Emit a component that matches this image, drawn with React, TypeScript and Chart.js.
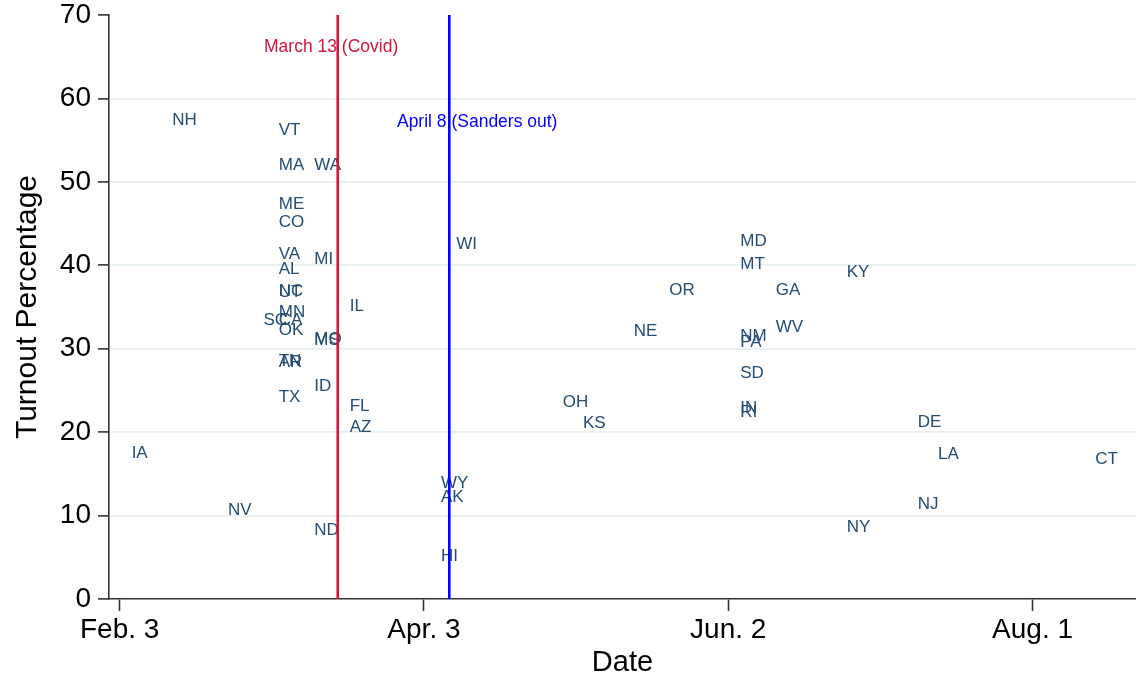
import React, { useEffect, useRef } from "react";
import { Chart, registerables } from "chart.js";

Chart.register(...registerables);

// ---- data ----
const startDate = "2020-02-03";
const states = [
  "IA", "NH", "NV", "SC",
  "AL", "AR", "CA", "CO", "ME", "MA", "MN", "NC", "OK", "TN", "TX", "UT", "VT", "VA",
  "ID", "MI", "MS", "MO", "ND", "WA",
  "AZ", "FL", "IL",
  "AK", "HI", "WY",
  "WI", "OH", "KS", "NE", "OR",
  "IN", "MD", "MT", "NM", "PA", "RI", "SD",
  "GA", "WV", "KY", "NY", "DE", "NJ", "LA", "CT",
];
const primaryDates = [
  "2020-02-03", "2020-02-11", "2020-02-22", "2020-02-29",
  "2020-03-03", "2020-03-03", "2020-03-03", "2020-03-03", "2020-03-03", "2020-03-03", "2020-03-03",
  "2020-03-03", "2020-03-03", "2020-03-03", "2020-03-03", "2020-03-03", "2020-03-03", "2020-03-03",
  "2020-03-10", "2020-03-10", "2020-03-10", "2020-03-10", "2020-03-10", "2020-03-10",
  "2020-03-17", "2020-03-17", "2020-03-17",
  "2020-04-04", "2020-04-04", "2020-04-04",
  "2020-04-07", "2020-04-28", "2020-05-02", "2020-05-12", "2020-05-19",
  "2020-06-02", "2020-06-02", "2020-06-02", "2020-06-02", "2020-06-02", "2020-06-02", "2020-06-02",
  "2020-06-09", "2020-06-09", "2020-06-23", "2020-06-23", "2020-07-07", "2020-07-07", "2020-07-11", "2020-08-11",
];
const turnout = [
  17.7, 57.5, 10.8, 33.6,
  39.7, 28.6, 33.6, 45.3, 47.5, 52.2, 34.6, 37.1, 32.4, 28.7, 24.4, 37.0, 56.3, 41.5,
  25.7, 40.9, 31.2, 31.3, 8.4, 52.2,
  20.8, 23.3, 35.3,
  12.4, 5.3, 14.1,
  42.7, 23.7, 21.2, 32.3, 37.2,
  23.0, 43.0, 40.3, 31.7, 31.0, 22.5, 27.2,
  37.2, 32.7, 39.3, 8.8, 21.4, 11.5, 17.5, 16.9,
];

const tickDays = [0, 60, 120, 180];
const tickLabels = ["Feb. 3", "Apr. 3", "Jun. 2", "Aug. 1"];
const yTicks = [0, 10, 20, 30, 40, 50, 60, 70];

const eventDates = ["2020-03-17", "2020-04-08"];
const eventLabels = ["March 13 (Covid)", "April 8 (Sanders out)"];
const eventColors = ["#d3143c", "#0000ff"];
const eventLabelDay = [41.7, 70.5];
const eventLabelValue = [66.3, 57.3];

const dayOf = (d: string) =>
  Math.round((Date.parse(d + "T00:00:00Z") - Date.parse(startDate + "T00:00:00Z")) / 86400000);

const FONT = "'Liberation Sans', Arial, Helvetica, sans-serif";

const labelPlugin = {
  id: "stateLabels",
  afterDatasetsDraw(chart: any) {
    const { ctx, scales } = chart;
    const xs = scales.x;
    const ys = scales.y;
    const area = chart.chartArea;
    ctx.save();
    // state labels
    ctx.font = `17px ${FONT}`;
    ctx.fillStyle = "#234d75";
    ctx.textAlign = "left";
    ctx.textBaseline = "middle";
    const meta = chart.getDatasetMeta(0);
    meta.data.forEach((pt: any, i: number) => {
      ctx.fillText(states[i], pt.x + 12, pt.y + 1.5);
    });
    // event lines
    eventDates.forEach((d, i) => {
      const x = xs.getPixelForValue(dayOf(d));
      ctx.beginPath();
      ctx.strokeStyle = eventColors[i];
      ctx.lineWidth = 2.6;
      ctx.moveTo(x, area.top);
      ctx.lineTo(x, area.bottom);
      ctx.stroke();
    });
    // event labels
    ctx.font = `17.5px ${FONT}`;
    ctx.textAlign = "center";
    eventLabels.forEach((t, i) => {
      ctx.fillStyle = eventColors[i];
      ctx.fillText(t, xs.getPixelForValue(eventLabelDay[i]), ys.getPixelForValue(eventLabelValue[i]) + 1.5);
    });
    ctx.restore();
  },
};

export default function App() {
  const ref = useRef<HTMLCanvasElement | null>(null);
  useEffect(() => {
    document.body.style.margin = "0";
    document.body.style.overflow = "hidden";
    document.body.style.background = "#ffffff";
    const canvas = ref.current;
    if (!canvas) return;
    const points = states.map((_, i) => ({ x: dayOf(primaryDates[i]), y: turnout[i] }));
    const chart = new Chart(canvas, {
      type: "scatter",
      data: {
        datasets: [
          {
            data: points,
            pointRadius: 0,
            pointHoverRadius: 0,
            borderColor: "transparent",
            backgroundColor: "transparent",
          },
        ],
      },
      options: {
        animation: false,
        responsive: false,
        devicePixelRatio: 1,
        layout: { padding: { left: 0, top: 15, right: 0, bottom: 0 } },
        plugins: { legend: { display: false }, tooltip: { enabled: false } },
        scales: {
          x: {
            type: "linear",
            min: -2.1,
            max: 200.4,
            afterBuildTicks: (scale: any) => {
              scale.ticks = tickDays.map((v) => ({ value: v }));
            },
            afterFit: (scale: any) => {
              scale.height = 79;
              scale.paddingLeft = 0;
              scale.paddingRight = 0;
            },
            ticks: {
              autoSkip: false,
              maxRotation: 0,
              padding: 5,
              color: "#000",
              font: { family: FONT, size: 28, lineHeight: 1 },
              callback: (_v: any, i: number) => tickLabels[i],
            },
            grid: {
              drawOnChartArea: false,
              drawTicks: true,
              tickLength: 12,
              tickColor: "#333",
              tickWidth: 1.6,
            },
            border: { display: true, color: "#333", width: 1.6 },
            title: {
              display: true,
              text: "Date",
              color: "#000",
              font: { family: FONT, size: 29, lineHeight: 1 },
              padding: { top: 0, bottom: 1 },
            },
          },
          y: {
            type: "linear",
            min: 0,
            max: 70,
            afterBuildTicks: (scale: any) => {
              scale.ticks = yTicks.map((v) => ({ value: v }));
            },
            afterFit: (scale: any) => {
              scale.width = 109;
              scale.paddingTop = 0;
              scale.paddingBottom = 0;
            },
            ticks: {
              padding: 7,
              color: "#000",
              font: { family: FONT, size: 28, lineHeight: 1 },
            },
            grid: {
              color: (c: any) =>
                c.tick && (c.tick.value === 0 || c.tick.value === 70) ? "rgba(0,0,0,0)" : "#e6eff2",
              lineWidth: 1.8,
              drawTicks: true,
              tickLength: 11,
              tickColor: "#333",
              tickWidth: 1.6,
            },
            border: { display: true, color: "#333", width: 1.6 },
            title: {
              display: true,
              text: "Turnout Percentage",
              color: "#000",
              font: { family: FONT, size: 30, lineHeight: 1 },
              padding: { top: 13, bottom: 0 },
            },
          },
        },
      },
      plugins: [labelPlugin],
    } as any);
    return () => chart.destroy();
  }, []);
  return (
    <div style={{ width: 1136, height: 678, position: "relative" }}>
      <canvas ref={ref} width={1136} height={678} style={{ display: "block" }} />
    </div>
  );
}
